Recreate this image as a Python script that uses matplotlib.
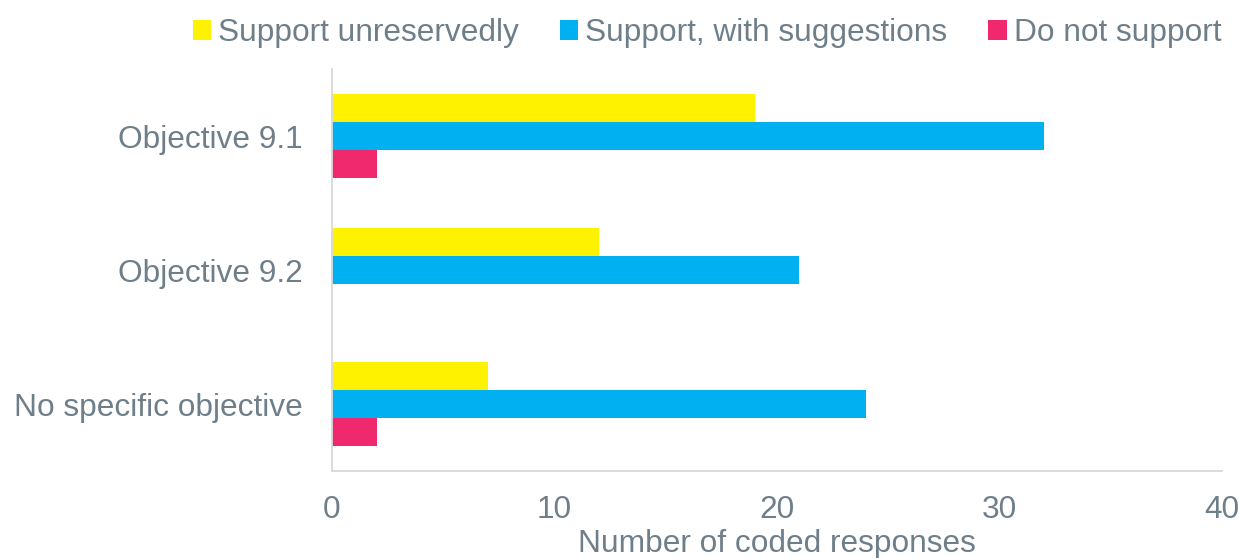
import matplotlib
matplotlib.use("Agg")
import matplotlib.pyplot as plt
import numpy as np
from matplotlib.patches import Patch

categories = ["Objective 9.1", "Objective 9.2", "No specific objective"]
series_names = ["Support unreservedly", "Support, with suggestions", "Do not support"]
support_unreservedly = [19, 12, 7]
support_with_suggestions = [32, 21, 24]
do_not_support = [2, 0, 2]
x_ticks = [0, 10, 20, 30, 40]
x_label = "Number of coded responses"

colors = ["#FFF200", "#00B0F0", "#F0286E"]
text_color = "#6F7F8A"
spine_color = "#D9D9D9"

plt.rcParams['font.family'] = ['Liberation Sans', 'DejaVu Sans']
fs = 22.8

fig = plt.figure(figsize=(12.42, 5.58), dpi=100)
ax = fig.add_axes([332/1242, 1-471/558, (1222-332)/1242, (471-69)/558])

y = np.arange(len(categories))
h = 0.209
for i, (vals, c) in enumerate(zip([support_unreservedly, support_with_suggestions, do_not_support], colors)):
    ax.barh(y + (i-1)*h, vals, height=h, color=c, edgecolor='none')

ax.set_ylim(2.5, -0.5)
ax.set_xlim(0, 40)
ax.set_xticks(x_ticks)
ax.set_yticks(y)
ax.set_yticklabels(categories)
ax.tick_params(axis='both', length=0, labelsize=fs, labelcolor=text_color)
ax.tick_params(axis='x', pad=17)
ax.tick_params(axis='y', pad=21)
for s in ['top', 'right']:
    ax.spines[s].set_visible(False)
for s in ['left', 'bottom']:
    ax.spines[s].set_color(spine_color)
    ax.spines[s].set_linewidth(1.3)
ax.set_xlabel(x_label, fontsize=fs, color=text_color)
ax.xaxis.set_label_coords(0.5, -(544-471)/402)
ax.xaxis.label.set_va('center')

handles = [Patch(facecolor=c, edgecolor='none') for c in colors]
fig.legend(handles, series_names, loc='center right', bbox_to_anchor=(1221/1242, 1-33/558),
           ncol=3, frameon=False, fontsize=fs, labelcolor=text_color,
           handlelength=0.57, handleheight=0.57, handletextpad=0.22, columnspacing=1.3,
           borderaxespad=0, borderpad=0)

fig.savefig("out.png", dpi=100)
